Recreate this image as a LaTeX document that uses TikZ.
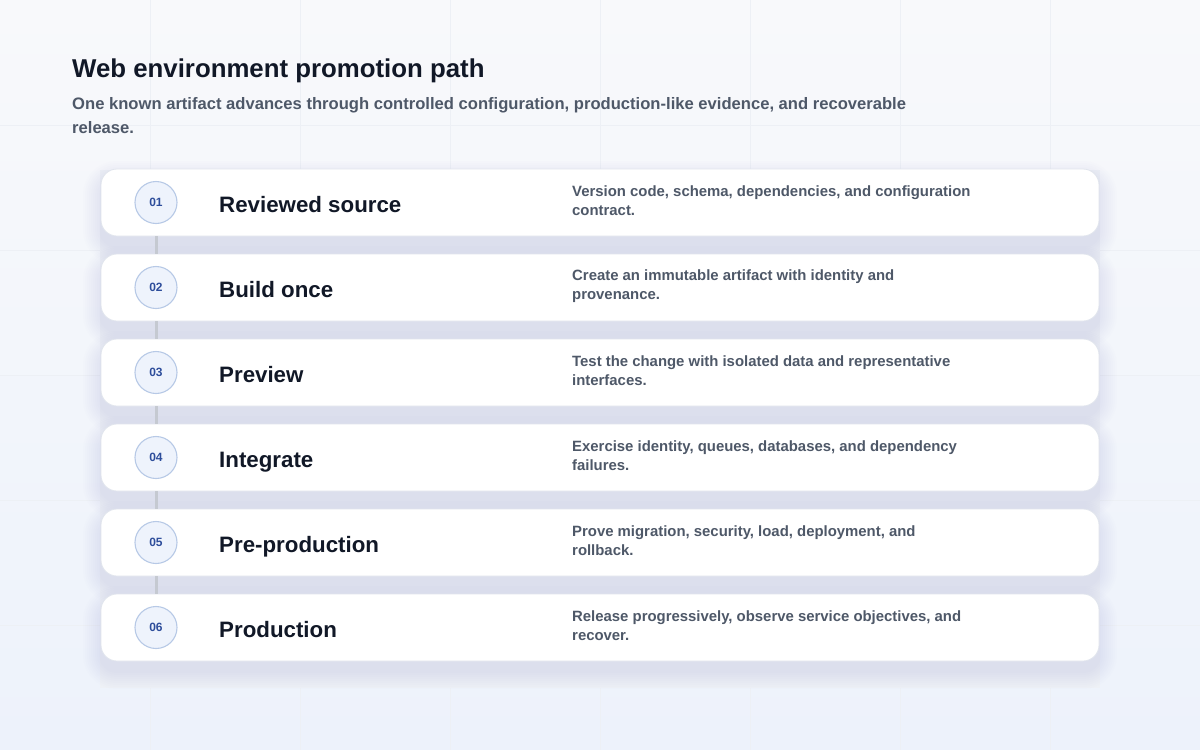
\documentclass[tikz,border=0pt]{standalone}
\usepackage{fontspec}
\setmainfont{Liberation Sans}
\usetikzlibrary{calc}
\usetikzlibrary{positioning}

\definecolor{ink}{HTML}{111827}
\definecolor{slate}{HTML}{4E5868}
\definecolor{bgtop}{HTML}{F8F9FB}
\definecolor{bgbot}{HTML}{EDF2FB}
\definecolor{gridc}{HTML}{EDF0F5}
\definecolor{shadowc}{HTML}{7A88A8}
\definecolor{panelc}{HTML}{EEF1F6}
\definecolor{cardline}{HTML}{E1E5ED}
\definecolor{badgefill}{HTML}{EEF3FC}
\definecolor{badgeline}{HTML}{B7C9E6}
\definecolor{badgeink}{HTML}{2D4D9B}
\definecolor{linkc}{HTML}{C5C9D1}

\begin{document}
\begin{tikzpicture}[x=1pt,y=-1pt,
  card/.style={draw=cardline, line width=0.8pt, fill=white, rounded corners=16pt, minimum width=998pt, minimum height=67pt, inner sep=0pt},
  badge/.style={circle, draw=badgeline, line width=1.1pt, fill=badgefill, minimum size=42pt, inner sep=0pt, text=badgeink, font=\bfseries\fontsize{12}{14}\selectfont},
  stage/.style={anchor=base west, inner sep=0pt, text=ink, font=\bfseries\fontsize{22.3}{26}\selectfont},
  detail/.style={anchor=west, inner sep=0pt, align=left, text=slate, font=\bfseries\fontsize{14.9}{19}\selectfont},
  link/.style={linkc, line width=3pt}]
\useasboundingbox (0,0) rectangle (1200,750);
\shade[top color=bgtop, bottom color=bgbot] (0,0) rectangle (1200,750);
\foreach \x in {150,300,...,1050} \draw[gridc, line width=0.6pt] (\x,0) -- (\x,750);
\foreach \y in {125,250,...,625} \draw[gridc, line width=0.6pt] (0,\y) -- (1200,\y);

\node[anchor=base west, inner sep=0pt, text=ink, font=\bfseries\fontsize{25.8}{30}\selectfont] (title) at (72,77.5) {Web environment promotion path};
\node[anchor=west, inner sep=0pt, align=left, text=slate, font=\bfseries\fontsize{16.6}{24}\selectfont] (subtitle) at (72,116)
  {One known artifact advances through controlled configuration, production-like evidence, and recoverable\\release.};

% list panel and soft shadows
\fill[panelc] (100,170) rectangle (1100,688);
\foreach \i in {1,...,6} {
  \pgfmathsetmacro\cy{117.5+85*\i}
  \foreach \s in {2,4,...,18}
    \fill[shadowc, opacity=0.012, rounded corners=16+\s] (101-\s,\cy-33.5-\s+10) rectangle (1099+\s,\cy+33.5+\s+10);
}

\foreach \n/\t/\d [count=\i] in {
  01/Reviewed source/{Version code, schema, dependencies, and configuration\\contract.},
  02/Build once/{Create an immutable artifact with identity and\\provenance.},
  03/Preview/{Test the change with isolated data and representative\\interfaces.},
  04/Integrate/{Exercise identity, queues, databases, and dependency\\failures.},
  05/Pre-production/{Prove migration, security, load, deployment, and\\rollback.},
  06/Production/{Release progressively, observe service objectives, and\\recover.}} {
  \pgfmathsetmacro\cy{117.5+85*\i}
  \node[card] (card\i) at (600,\cy) {};
  \node[badge] (num\i) at (156,\cy) {\n};
  \node[stage] (stage\i) at (219,\cy+9.5) {\t};
  \node[detail] (detail\i) at (572,\cy-1.5) {\d};
}
\foreach \i [evaluate=\i as \j using int(\i+1)] in {1,...,5}
  \draw[link] (card\i.south -| num\i) -- (card\j.north -| num\j);
\end{tikzpicture}
\end{document}
